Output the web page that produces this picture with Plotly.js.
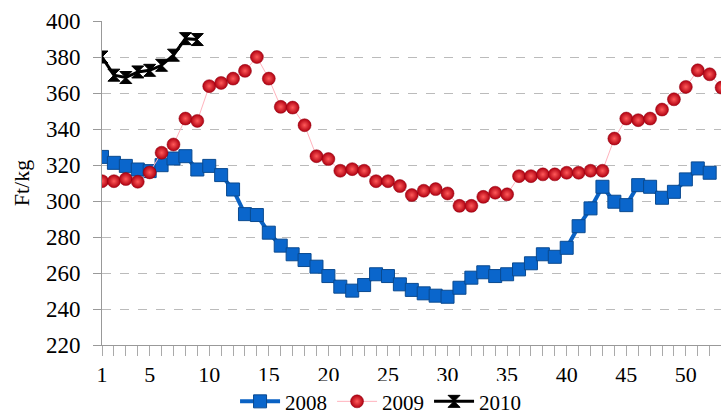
<!DOCTYPE html>
<html><head><meta charset="utf-8">
<script src="https://cdn.plot.ly/plotly-3.0.1.min.js"></script>
<style>html,body{margin:0;padding:0;background:#fff}#chart{width:721px;height:415px}</style>
</head><body><div id="chart"></div>
<script>
const weeks2008 = Array.from({length:52},(_,i)=>i+1);
const weeks2009 = Array.from({length:53},(_,i)=>i+1);
const weeks2010 = [1,2,3,4,5,6,7,8,9];
const values2008 = [324.5,321.2,319.5,317.5,316.6,319.9,323.6,324.9,317.5,319.5,314.4,306.4,292.7,292.2,282.4,275.2,270.4,267.2,263.5,258.3,252.4,250.2,253.3,259.3,258.3,253.7,250.6,248.7,247.4,246.8,251.8,257.4,260.4,258.3,259.3,262.0,265.4,270.4,269.0,274.0,286.0,295.9,307.9,299.6,297.7,308.8,307.9,301.8,305.1,312.0,318.1,315.7];
const values2009 = [311.0,311.0,312.2,310.7,315.9,326.8,331.4,345.8,344.5,363.8,365.6,368.0,372.3,380.0,368.0,352.3,351.9,342.1,324.9,323.3,316.8,317.7,316.8,311.0,311.0,308.3,303.3,305.7,306.6,304.2,297.3,297.3,302.3,304.6,303.7,313.8,313.8,314.8,314.8,315.7,315.7,316.8,316.8,334.7,345.8,344.9,345.8,350.8,356.5,363.4,372.6,370.4,363.0];
const values2010 = [380.0,369.9,368.6,371.7,372.6,375.4,381.0,390.2,389.7];
const seriesNames = ['2008','2009','2010'];
const tickWeeks = Array.from({length:53},(_,i)=>i+1);
const labeledWeeks = [1,5,10,15,20,25,30,35,40,45,50];
const tickText = tickWeeks.map(w => labeledWeeks.includes(w) ? String(w) : '');

const font = "Liberation Serif";
const traces = [
  {x: weeks2008, y: values2008, name: seriesNames[0], mode:'lines+markers',
   line:{color:'#0a62c4', width:4},
   marker:{symbol:'square', size:13, color:'#0a66cc', line:{color:'#0a4a90', width:1}}},
  {x: weeks2009, y: values2009, name: seriesNames[1], mode:'lines+markers',
   line:{color:'#ffb3bd', width:1},
   marker:{symbol:'circle', size:13, color:'#b00010', gradient:{type:'radial', color:'#ff5a5a'}, line:{color:'#900010', width:0.5}}},
  {x: weeks2010, y: values2010, name: seriesNames[2], mode:'lines+markers',
   line:{color:'#000000', width:3},
   marker:{symbol:'hourglass', size:12, color:'#000000', line:{color:'#000', width:1}}}
];
const layout = {
  width:721, height:415,
  margin:{l:102, r:0, t:21, b:70, autoexpand:false},
  paper_bgcolor:'#fff', plot_bgcolor:'#fff',
  font:{family:font, size:21, color:'#000'},
  showlegend:true,
  legend:{orientation:'h', x:0.45, xanchor:'center', y:-0.175, yanchor:'middle', font:{family:font, size:21}, itemwidth:40, tracegroupgap:0},
  xaxis:{range:[1,52.95], tickmode:'array', tickvals:tickWeeks, ticktext:tickText, automargin:false,
    ticks:'outside', ticklen:10, tickcolor:'#aaa', showline:true, linecolor:'#999', showgrid:false, zeroline:false,
    tickfont:{family:font, size:22, color:'#000'}},
  yaxis:{range:[220,400], dtick:20, tick0:220, ticks:'outside', ticklen:8, tickcolor:'#999', automargin:false,
    showline:true, linecolor:'#999', showgrid:true, gridcolor:'#bbb', griddash:'dash', gridwidth:1, zeroline:false,
    tickfont:{family:font, size:23, color:'#000'}, ticklabelstandoff:8,
    title:{text:'Ft/kg', font:{family:font, size:22}, standoff:10}}
};
Plotly.newPlot('chart', traces, layout, {displayModeBar:false, staticPlot:true});
</script></body></html>
